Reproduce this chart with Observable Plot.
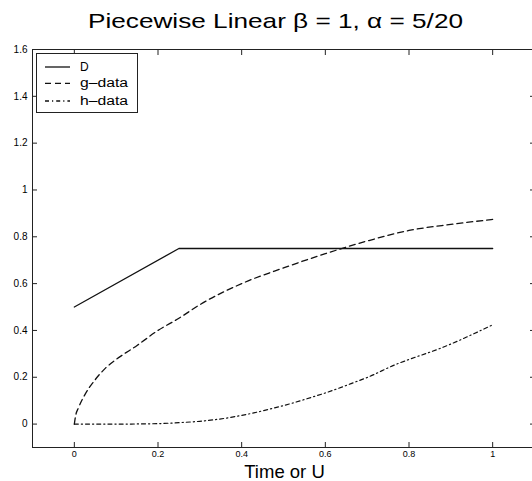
<!DOCTYPE html>
<html><head><meta charset="utf-8">
<script src="https://cdn.jsdelivr.net/npm/d3@7"></script>
<script src="https://cdn.jsdelivr.net/npm/@observablehq/plot@0.6"></script>
<style>
html,body{margin:0;padding:0;background:#fff;overflow:hidden;width:532px;height:481px;}
#title{position:relative;height:44px;width:532px;}
#tt{position:absolute;top:10px;left:0;white-space:nowrap;font-family:"Liberation Sans",Arial,sans-serif;font-size:21px;color:#000;transform-origin:0 0;line-height:1;}
#chart svg{display:block;}
</style></head><body>
<div id="title"><span id="tt"></span></div>
<div id="chart"></div>
<script>
const titleText = "Piecewise Linear β = 1, α = 5/20";
const xLabel = "Time or U";
const seriesNames = ["D", "g–data", "h–data"];
const xTicks = [0, 0.2, 0.4, 0.6, 0.8, 1];
const yTicks = [0, 0.2, 0.4, 0.6, 0.8, 1, 1.2, 1.4, 1.6];

// D (solid)
const dX = [0, 0.25, 1];
const dY = [0.5, 0.75, 0.75];
// g-data (dashed)
const gX = [0, 0.003, 0.01, 0.025, 0.05, 0.075, 0.1, 0.15, 0.2, 0.25, 0.3, 0.4, 0.5, 0.6, 0.7, 0.8, 0.9, 1.0];
const gY = [0, 0.035, 0.07, 0.125, 0.19, 0.24, 0.276, 0.336, 0.40, 0.452, 0.51, 0.60, 0.667, 0.728, 0.782, 0.827, 0.853, 0.874];
// h-data (dash-dot)
const hX = [0, 0.1, 0.2, 0.25, 0.3, 0.372, 0.4, 0.476, 0.5, 0.579, 0.6, 0.675, 0.7, 0.77, 0.8, 0.874, 0.9, 1.0];
const hY = [0, 0, 0.002, 0.006, 0.012, 0.028, 0.037, 0.068, 0.079, 0.121, 0.133, 0.182, 0.199, 0.256, 0.276, 0.323, 0.342, 0.424];

const rows = (name, xs, ys) => xs.map((x, i) => ({series: name, x, y: ys[i]}));
const dRows = rows(seriesNames[0], dX, dY);
const gRows = rows(seriesNames[1], gX, gY);
const hRows = rows(seriesNames[2], hX, hY);

const dashes = ["none", "6,4", "4,3,1.2,3"];
const ink = "#111";
const fmt = d => String(d);

// title
const tt = document.getElementById("tt");
tt.textContent = titleText;
const tw = tt.getBoundingClientRect().width;
const targetW = 375;
tt.style.transform = `scaleX(${targetW / tw})`;
tt.style.left = (275 - targetW / 2) + "px";

const chart = Plot.plot({
  width: 532, height: 437,
  marginLeft: 32, marginRight: -2, marginTop: 5, marginBottom: 34,
  x: {domain: [-0.1, 1.1], label: null},
  y: {domain: [-0.1, 1.6], label: null},
  style: {fontFamily: "'Liberation Sans', Arial, sans-serif", fontSize: "9.5px", color: "#000", background: "#fff", overflow: "hidden"},
  marks: [
    Plot.frame({stroke: "#222", strokeWidth: 1}),
    Plot.axisX({ticks: xTicks, anchor: "bottom", tickSize: -5, tickPadding: 8.2, tickFormat: fmt, fontSize: 9, label: null, stroke: "#222"}),
    Plot.axisX({ticks: xTicks, anchor: "top", tickSize: -5, tickFormat: () => "", label: null, stroke: "#222"}),
    Plot.axisY({ticks: yTicks, anchor: "left", tickSize: -5, tickPadding: 10, tickFormat: fmt, fontSize: 10, label: null, stroke: "#222"}),
    Plot.axisY({ticks: yTicks, anchor: "right", tickSize: -5, tickFormat: () => "", label: null, stroke: "#222"}),
    Plot.line(dRows, {x: "x", y: "y", stroke: ink, strokeWidth: 1.3}),
    Plot.line(gRows, {x: "x", y: "y", stroke: ink, strokeWidth: 1.3, strokeDasharray: dashes[1], curve: "monotone-x"}),
    Plot.line(hRows, {x: "x", y: "y", stroke: ink, strokeWidth: 1.2, strokeDasharray: dashes[2], curve: "monotone-x"}),
    Plot.text([xLabel], {text: d => d, frameAnchor: "bottom", lineAnchor: "bottom", dy: 30.3, dx: 1, fontSize: 18.5, fill: "#000"})
  ]
});
document.getElementById("chart").appendChild(chart);

// legend (drawn in the plot's SVG)
const svg = d3.select(chart);
const lg = svg.append("g").attr("font-family", "'Liberation Sans', Arial, sans-serif").attr("font-size", 12)
  .attr("fill", "#000").attr("text-anchor", "start");
lg.append("rect").attr("x", 36.5).attr("y", 9.5).attr("width", 101).attr("height", 59)
  .attr("fill", "#fff").attr("stroke", "#222").attr("stroke-width", 1);
const keyY = [23, 39.3, 57];
const textY = [27, 43, 60.5];
seriesNames.forEach((name, i) => {
  lg.append("line").attr("x1", 45).attr("x2", 70).attr("y1", keyY[i]).attr("y2", keyY[i])
    .attr("stroke", ink).attr("stroke-width", 1.3)
    .attr("stroke-dasharray", dashes[i] === "none" ? null : dashes[i]);
  const t = lg.append("text").attr("x", 80).attr("y", textY[i]).attr("text-anchor", "start").text(name);
  if (i > 0) t.attr("textLength", 48).attr("lengthAdjust", "spacingAndGlyphs");
});
</script>
</body></html>
